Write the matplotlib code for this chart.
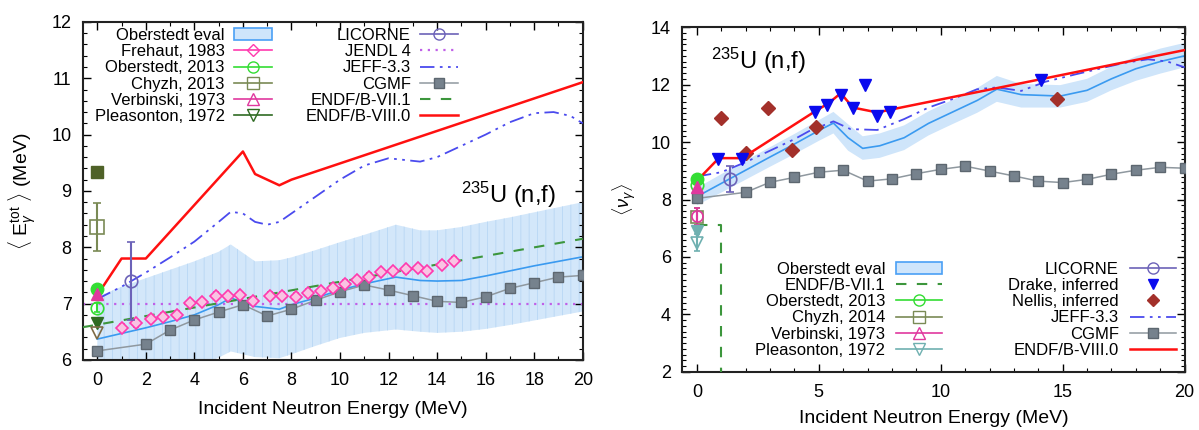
import matplotlib
matplotlib.use("Agg")
import matplotlib.pyplot as plt
from matplotlib.lines import Line2D
from matplotlib.patches import Patch
from matplotlib.ticker import MultipleLocator

plt.rcParams['font.family'] = ['Liberation Sans', 'DejaVu Sans']
plt.rcParams['mathtext.fontset'] = 'custom'
plt.rcParams['mathtext.rm'] = 'Liberation Sans'
plt.rcParams['mathtext.it'] = 'Liberation Sans:italic'
plt.rcParams['hatch.linewidth'] = 0.7

# ---------------- left panel: total gamma energy ----------------
band_E_l = [0, 1, 2, 3, 4, 5, 5.5, 6.5, 7.5, 8, 9, 10, 11, 12.3, 13.3, 14, 15, 16, 17, 18, 19, 20]
band_c_l = [6.37, 6.47, 6.57, 6.68, 6.8, 6.98, 7.1, 6.95, 6.9, 6.98, 7.1, 7.24, 7.35, 7.47, 7.41, 7.4, 7.41, 7.49, 7.58, 7.67, 7.75, 7.83]
band_hi_l = [7.12, 7.3, 7.45, 7.6, 7.75, 7.92, 8.05, 7.75, 7.77, 7.82, 7.95, 8.09, 8.22, 8.4, 8.3, 8.3, 8.36, 8.45, 8.53, 8.62, 8.71, 8.8]
band_lo_l = [5.62, 5.64, 5.69, 5.76, 5.85, 6.04, 6.15, 6.05, 6.03, 6.1, 6.25, 6.39, 6.48, 6.54, 6.5, 6.48, 6.5, 6.55, 6.62, 6.7, 6.78, 6.86]

b8_E_l = [0, 1, 2, 6, 6.5, 7.5, 8, 20]
b8_v_l = [7.15, 7.8, 7.8, 9.7, 9.3, 9.1, 9.2, 10.93]

jeff_E_l = [0, 1, 2, 3, 4, 5, 5.5, 6.0, 6.5, 7.0, 7.5, 8, 9, 10, 11, 12, 13.3, 14, 15, 16, 17, 18, 18.8, 19.5, 20]
jeff_v_l = [7.08, 7.3, 7.55, 7.82, 8.1, 8.45, 8.63, 8.6, 8.45, 8.4, 8.45, 8.6, 8.9, 9.2, 9.45, 9.58, 9.52, 9.6, 9.8, 10.0, 10.22, 10.38, 10.4, 10.33, 10.2]

b71_E_l = [-0.6, 20]
b71_v_l = [6.58, 8.15]

jendl_E = [-0.6, 20]
jendl_v = [7.0, 7.0]

cgmf_E_l = [0, 2, 3, 4, 5, 6, 7, 8, 9, 10, 11, 12, 13, 14, 15, 16, 17, 18, 19, 20]
cgmf_v_l = [6.16, 6.28, 6.53, 6.71, 6.85, 6.98, 6.78, 6.9, 7.06, 7.21, 7.33, 7.24, 7.14, 7.04, 7.02, 7.12, 7.27, 7.37, 7.47, 7.5]

frehaut_E = [1.0, 1.6, 2.2, 2.7, 3.3, 3.8, 4.3, 4.9, 5.4, 5.9, 6.4, 7.1, 7.6, 8.2, 8.7, 9.2, 9.7,
             10.2, 10.7, 11.2, 11.7, 12.2, 12.7, 13.2, 13.6, 14.2, 14.7]
frehaut_v = [6.57, 6.65, 6.73, 6.77, 6.8, 7.01, 7.03, 7.14, 7.13, 7.15, 7.05, 7.14, 7.14, 7.12, 7.19, 7.22, 7.27,
             7.35, 7.42, 7.48, 7.56, 7.58, 7.61, 7.63, 7.58, 7.69, 7.76]

licorne_E_l = [1.4]
licorne_v_l = [7.4]
licorne_err_l = [0.7]

ober_l = [6.93]
ober_fill_l = [7.25]
chyzh_l = [8.36]
chyzh_err_l = [0.42]
extra_sq_l = [9.33]
verb_l = [7.17]
pleas_fill_l = [6.66]
pleas_open_l = [6.47]

# ---------------- right panel: gamma multiplicity ----------------
band_E_r = [0, 1, 2, 3, 4, 5, 5.6, 6.2, 6.8, 7.5, 8.5, 9.5, 10.5, 11.5, 12.3, 13.3, 14.9, 16, 17, 18, 19, 20]
band_c_r = [8.1, 8.56, 9.02, 9.48, 9.93, 10.4, 10.66, 10.15, 9.78, 9.87, 10.15, 10.65, 11.05, 11.45, 11.84, 11.65, 11.6, 11.8, 12.2, 12.55, 12.8, 13.0]
band_hi_r = [8.4, 8.88, 9.35, 9.82, 10.28, 10.76, 11.05, 10.62, 10.2, 10.3, 10.58, 11.07, 11.47, 11.88, 12.3, 12.02, 11.98, 12.2, 12.62, 12.98, 13.25, 13.45]
band_lo_r = [7.8, 8.24, 8.69, 9.14, 9.58, 10.04, 10.3, 9.7, 9.38, 9.45, 9.72, 10.23, 10.63, 11.02, 11.4, 11.2, 11.2, 11.4, 11.8, 12.13, 12.38, 12.6]

b8_E_r = [0, 0.9, 1.85, 4.85, 5.4, 5.9, 6.4, 7.4, 7.9, 20]
b8_v_r = [8.65, 9.44, 9.44, 11.07, 11.35, 11.7, 11.2, 11.03, 11.12, 13.2]

jeff_E_r = [0, 1, 2, 3, 4, 4.6, 5.6, 6.3, 7.4, 8.5, 9.5, 10.5, 11.5, 12.3, 13.3, 14.3, 15.5, 16.5, 17.5, 18.5, 19.3, 20]
jeff_v_r = [8.8, 8.95, 9.3, 9.7, 10.1, 10.38, 10.72, 10.45, 10.42, 10.8, 11.2, 11.5, 11.84, 11.9, 11.78, 12.1, 12.35, 12.55, 12.75, 12.88, 12.8, 12.6]

b71_E_r = [0, 1, 1]
b71_v_r = [7.1, 7.1, 0]

cgmf_E_r = [0, 2, 3, 4, 5, 6, 7, 8, 9, 10, 11, 12, 13, 14, 15, 16, 17, 18, 19, 20]
cgmf_v_r = [8.04, 8.25, 8.6, 8.77, 8.95, 9.02, 8.64, 8.72, 8.9, 9.05, 9.16, 8.99, 8.82, 8.64, 8.59, 8.7, 8.88, 9.02, 9.12, 9.09]

drake_E = [0.85, 1.85, 4.85, 5.35, 5.9, 6.4, 6.9, 7.4, 7.9, 14.1]
drake_v = [9.4, 9.4, 11.05, 11.3, 11.65, 11.18, 12.0, 10.9, 11.05, 12.15]

nellis_E = [1.0, 2.0, 2.9, 3.9, 4.9, 14.75]
nellis_v = [10.83, 9.63, 11.2, 9.71, 10.52, 11.49]

licorne_E_r = [1.35]
licorne_v_r = [8.72]
licorne_err_r = [0.45]

ober_r = [8.5]
ober_fill_r = [8.72]
chyzh_r = [7.4]
chyzh_err_r = [0.3]
verb_r = [8.42]
verb_open_r = [7.42]
pleas_fill_r = [6.9]
pleas_open_r = [6.5]
pleas_err_r = [0.3]

# colours
c_red = '#ff1010'
c_jeff = '#4a4aee'
c_eval = '#3a9af0'
c_band = '#d3e7fa'
c_cgmf = '#76828d'
c_b71 = '#3c963c'
c_jendl = '#c060e8'
c_freh = '#ff3aae'
c_ober = '#33dd33'
c_chyzh = '#7a8a55'
c_verb = '#e0389e'
c_pleas_l = '#2f6b22'
c_pleas_r = '#6fb0b0'
c_lic = '#6c62b8'
c_drake = '#0a0aee'
c_nellis = '#a3302a'

fig = plt.figure(figsize=(11.99, 4.30), dpi=100)
ax1 = fig.add_axes([0.069, 0.163, 0.417, 0.786])
ax2 = fig.add_axes([0.569, 0.135, 0.419, 0.802])


def style(ax, xmaj, xmin, ymaj, ymin):
    ax.xaxis.set_major_locator(MultipleLocator(xmaj))
    ax.xaxis.set_minor_locator(MultipleLocator(xmin))
    ax.yaxis.set_major_locator(MultipleLocator(ymaj))
    ax.yaxis.set_minor_locator(MultipleLocator(ymin))
    ax.tick_params(which='both', direction='in', top=True, right=True, labelsize=13)
    ax.tick_params(which='major', length=6, width=1)
    ax.tick_params(which='minor', length=3, width=0.8)
    ax.tick_params(axis='x', pad=9)
    ax.tick_params(axis='y', pad=8)
    for s in ax.spines.values():
        s.set_linewidth(1.5)
        s.set_color('#222222')


# ---- left ----
ax1.fill_between(band_E_l, band_lo_l, band_hi_l, facecolor=c_band, edgecolor='#bcd9f5',
                 hatch='||', linewidth=0, zorder=1)
ax1.plot(band_E_l, band_c_l, color=c_eval, lw=1.2, zorder=2)
ax1.plot(jendl_E, jendl_v, color=c_jendl, lw=1.6, ls=(0, (1, 2.5)), zorder=2)
ax1.plot(b71_E_l, b71_v_l, color=c_b71, lw=1.5, ls=(0, (5, 5)), zorder=3)
ax1.plot(cgmf_E_l, cgmf_v_l, color='#8f989f', lw=1.1, marker='s', ms=7, mfc=c_cgmf, mec='#5d6770',
         zorder=4)
ax1.errorbar(frehaut_E, frehaut_v, yerr=0.06, fmt='D', ms=6, mfc='#f9c3e3', mec=c_freh, mew=1.2,
             ecolor=c_freh, capsize=2, elinewidth=1, zorder=5)
ax1.plot(jeff_E_l, jeff_v_l, color=c_jeff, lw=1.3, ls=(0, (8, 3, 1.5, 3, 1.5, 3)), zorder=4)
ax1.plot(b8_E_l, b8_v_l, color=c_red, lw=1.8, zorder=6)
ax1.errorbar(licorne_E_l, licorne_v_l, yerr=licorne_err_l, fmt='o', ms=9, mfc='none', mec=c_lic,
             ecolor=c_lic, capsize=3, mew=1.2, zorder=6)
ax1.errorbar([0], chyzh_l, yerr=chyzh_err_l, fmt='s', ms=10, mfc='none', mec=c_chyzh, ecolor=c_chyzh,
             capsize=3, mew=1.2, zorder=6)
ax1.plot([0], extra_sq_l, 's', ms=9, color='#4f6228', zorder=6)
ax1.errorbar([0], ober_l, yerr=0.08, fmt='o', ms=9, mfc='none', mec=c_ober, ecolor=c_ober, capsize=2,
             mew=1.2, zorder=6)
ax1.plot([0], ober_fill_l, 'o', ms=9, color=c_ober, zorder=6)
ax1.plot([0], verb_l, '^', ms=8, color=c_verb, zorder=7)
ax1.plot([0], pleas_fill_l, 'v', ms=8, color=c_pleas_l, zorder=6)
ax1.plot([0], pleas_open_l, 'v', ms=8, mfc='none', mec='#7d6a45', mew=1.2, zorder=6)

ax1.text(15.0, 8.79, r'$^{235}$U (n,f)', fontsize=17, ha='left', va='baseline')
ax1.set_xlim(-0.6, 20)
ax1.set_ylim(6, 12)
style(ax1, 2, 1, 1, 0.2)
ax1.set_xlabel('Incident Neutron Energy (MeV)', fontsize=14, labelpad=8)
ax1.set_ylabel(r'$\langle$ E$_\gamma^{\rm tot}$ $\rangle$ (MeV)', fontsize=14)
ax1.yaxis.set_label_coords(-0.09, 0.5)

h_eval = Patch(facecolor='#cfe5fb', edgecolor='#4aa0f5', lw=1.2)
handles_l = [
    h_eval,
    Line2D([], [], color=c_freh, marker='D', ms=6, mfc='none', lw=1.2),
    Line2D([], [], color=c_ober, marker='o', ms=8, mfc='none', lw=1.2),
    Line2D([], [], color=c_chyzh, marker='s', ms=8, mfc='none', lw=1.2),
    Line2D([], [], color=c_verb, marker='^', ms=8, mfc='none', lw=1.2),
    Line2D([], [], color=c_pleas_l, marker='v', ms=8, mfc='none', lw=1.2),
    Line2D([], [], color=c_lic, marker='o', ms=8, mfc='none', lw=1.2),
    Line2D([], [], color=c_jendl, lw=1.6, ls=(0, (1, 2.5))),
    Line2D([], [], color=c_jeff, lw=1.3, ls=(0, (8, 3, 1.5, 3, 1.5, 3))),
    Line2D([], [], color='#8f989f', marker='s', ms=7, mfc=c_cgmf, mec='#5d6770', lw=1.1),
    Line2D([], [], color=c_b71, lw=1.5, ls=(0, (5, 5))),
    Line2D([], [], color=c_red, lw=1.8),
]
labels_l = ['Oberstedt eval', 'Frehaut, 1983', 'Oberstedt, 2013', 'Chyzh, 2013', 'Verbinski, 1973',
            'Pleasonton, 1972', 'LICORNE', 'JENDL 4', 'JEFF-3.3', 'CGMF', 'ENDF/B-VII.1', 'ENDF/B-VIII.0']
ax1.legend(handles_l, labels_l, ncols=2, loc='upper left', bbox_to_anchor=(0.024, 0.982), frameon=False,
           markerfirst=False, fontsize=12, labelspacing=0.07, handlelength=2.3, handletextpad=0.55,
           columnspacing=2.0, borderpad=0, borderaxespad=0)

# ---- right ----
ax2.fill_between(band_E_r, band_lo_r, band_hi_r, facecolor='#cfe5fa', linewidth=0, zorder=1)
ax2.plot(band_E_r, band_c_r, color=c_eval, lw=1.2, zorder=2)
ax2.plot(b71_E_r, b71_v_r, color=c_b71, lw=1.5, ls=(0, (5, 5)), zorder=3)
ax2.plot(cgmf_E_r, cgmf_v_r, color='#8f989f', lw=1.1, marker='s', ms=7, mfc=c_cgmf, mec='#5d6770',
         zorder=4)
ax2.plot(jeff_E_r, jeff_v_r, color=c_jeff, lw=1.3, ls=(0, (8, 3, 1.5, 3, 1.5, 3)), zorder=4)
ax2.plot(nellis_E, nellis_v, 'D', ms=7, color=c_nellis, zorder=5)
ax2.plot(b8_E_r, b8_v_r, color=c_red, lw=1.8, zorder=6)
ax2.plot(drake_E, drake_v, 'v', ms=8, color=c_drake, zorder=7)
ax2.errorbar(licorne_E_r, licorne_v_r, yerr=licorne_err_r, fmt='o', ms=9, mfc='none', mec=c_lic,
             ecolor=c_lic, capsize=3, mew=1.2, zorder=6)
ax2.errorbar([0], ober_r, yerr=0.2, fmt='o', ms=9, mfc='none', mec=c_ober, ecolor=c_ober, capsize=2,
             mew=1.2, zorder=6)
ax2.plot([0], ober_fill_r, 'o', ms=9, color=c_ober, zorder=6)
ax2.plot([0], verb_r, '^', ms=8, color=c_verb, zorder=7)
ax2.errorbar([0], chyzh_r, yerr=chyzh_err_r, fmt='s', ms=9, mfc='none', mec=c_chyzh, ecolor=c_chyzh,
             capsize=2, mew=1.2, zorder=6)
ax2.errorbar([0], verb_open_r, yerr=0.3, fmt='o', ms=8, mfc='none', mec=c_verb, ecolor=c_verb, capsize=2,
             mew=1.2, zorder=6)
ax2.plot([0], pleas_fill_r, 'v', ms=8, color=c_pleas_r, zorder=6)
ax2.errorbar([0], pleas_open_r, yerr=pleas_err_r, fmt='v', ms=9, mfc='none', mec=c_pleas_r,
             ecolor=c_pleas_r, capsize=2, mew=1.2, zorder=6)

ax2.text(0.6, 12.54, r'$^{235}$U (n,f)', fontsize=17, ha='left', va='baseline')
ax2.set_xlim(-0.6, 20)
ax2.set_ylim(2, 14)
style(ax2, 5, 1, 2, 0.2)
ax2.set_xlabel('Incident Neutron Energy (MeV)', fontsize=14, labelpad=6)
ax2.set_ylabel(r'$\langle\nu_\gamma\rangle$', fontsize=13)
ax2.yaxis.set_label_coords(-0.088, 0.5)

handles_r = [
    h_eval,
    Line2D([], [], color=c_b71, lw=1.5, ls=(0, (5, 5))),
    Line2D([], [], color=c_ober, marker='o', ms=8, mfc='none', lw=1.2),
    Line2D([], [], color=c_chyzh, marker='s', ms=8, mfc='none', lw=1.2),
    Line2D([], [], color=c_verb, marker='^', ms=8, mfc='none', lw=1.2),
    Line2D([], [], color=c_pleas_r, marker='v', ms=8, mfc='none', lw=1.2),
    Line2D([], [], color=c_lic, marker='o', ms=8, mfc='none', lw=1.2),
    Line2D([], [], color=c_drake, marker='v', ms=7, ls='none'),
    Line2D([], [], color=c_nellis, marker='D', ms=6, ls='none'),
    Line2D([], [], color=c_jeff, lw=1.3, ls=(0, (8, 3, 1.5, 3, 1.5, 3))),
    Line2D([], [], color='#8f989f', marker='s', ms=7, mfc=c_cgmf, mec='#5d6770', lw=1.1),
    Line2D([], [], color=c_red, lw=1.8),
]
labels_r = ['Oberstedt eval', 'ENDF/B-VII.1', 'Oberstedt, 2013', 'Chyzh, 2014', 'Verbinski, 1973',
            'Pleasonton, 1972', 'LICORNE', 'Drake, inferred', 'Nellis, inferred', 'JEFF-3.3', 'CGMF',
            'ENDF/B-VIII.0']
ax2.legend(handles_r, labels_r, ncols=2, loc='lower right', bbox_to_anchor=(0.982, 0.041), frameon=False,
           markerfirst=False, fontsize=12, labelspacing=0.07, handlelength=2.75, handletextpad=0.65,
           columnspacing=4.0, borderpad=0, borderaxespad=0)

fig.savefig('out.png', dpi=100)
